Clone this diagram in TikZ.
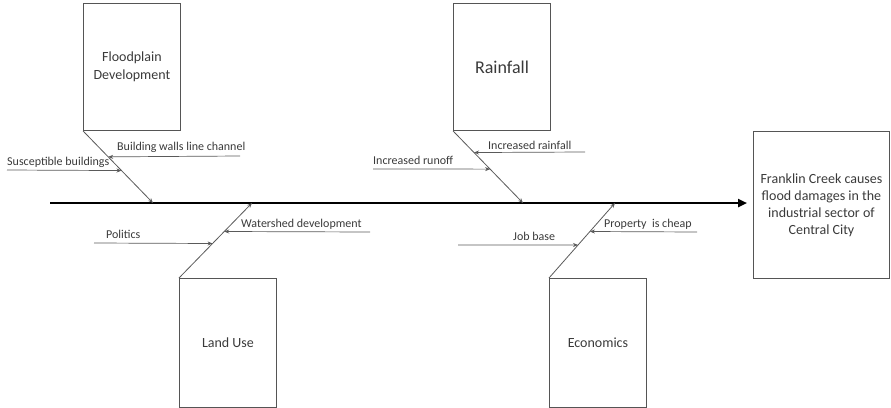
\documentclass[tikz,border=0pt]{standalone}
\usepackage{fontspec}
\setmainfont{Carlito}
\usetikzlibrary{arrows.meta,calc}
\definecolor{ink}{HTML}{3A3A3A}
\definecolor{linegray}{HTML}{5A5A5A}
\definecolor{boxline}{HTML}{555555}
\tikzset{
  catbox/.style={draw=boxline, line width=0.9pt, anchor=north west, inner sep=0pt,
    minimum width=97pt, minimum height=127pt, align=center, text=ink, font=\fontsize{14}{18}\selectfont},
  bone/.style={draw=linegray, line width=0.8pt, -{Stealth[length=5pt,width=4pt]}},
  rib/.style={draw=linegray, line width=0.7pt, -{Stealth[length=5pt,width=4pt]}},
  ribtext/.style={anchor=base west, inner sep=0pt, text=ink, font=\fontsize{12}{14}\selectfont},
  spine/.style={draw=black, line width=2.4pt, -{Triangle[length=9pt,width=8pt]}},
}
\begin{document}
\begin{tikzpicture}[x=1pt,y=-1pt]
\useasboundingbox (0,0) rectangle (891,407);

% effect box and main spine
\node[draw=boxline, line width=0.9pt, anchor=north west, minimum width=136pt, minimum height=147pt,
  inner sep=0pt, align=center, text=ink, font=\fontsize{14}{17}\selectfont]
  (effect) at (753,131) {Franklin Creek causes\\flood damages in the\\industrial sector of\\Central City};
\coordinate (tail) at (50,203);
\coordinate (head) at (747,203);
\draw[spine] (tail) -- (head);

% category boxes
\node[catbox] (flood) at (83,3) {Floodplain\\Development};
\node[catbox, font=\fontsize{18}{20}\selectfont] (rain) at (453,3) {Rainfall};
\node[catbox, minimum height=129pt] (land) at (179,278) {Land Use};
\node[catbox, minimum height=129pt] (econ) at (549,278) {Economics};

% joints on the spine
\coordinate (jflood) at (153,203);
\coordinate (jland) at (252,203);
\coordinate (jrain) at (523,203);
\coordinate (jecon) at (615,203);

% bones
\draw[bone] (flood.south west) -- (jflood);
\draw[bone] (land.north west) -- (jland);
\draw[bone] (rain.south west) -- (jrain);
\draw[bone] (econ.north west) -- (jecon);

% Floodplain Development causes
\coordinate (f1s) at (240,156);
\coordinate (f1e) at ($(flood.south west)!0.36!(jflood)$);
\draw[rib] (f1s) -- (f1e);
\node[ribtext] (f1t) at (117,150) {Building walls line channel};
\coordinate (f2s) at (7,170);
\coordinate (f2e) at ($(flood.south west)!0.55!(jflood)$);
\draw[rib] (f2s) -- (f2e);
\node[ribtext] (f2t) at (7,165) {Susceptible buildings};

% Land Use causes
\coordinate (l1s) at (370,232);
\coordinate (l1e) at ($(land.north west)!0.62!(jland)$);
\draw[rib] (l1s) -- (l1e);
\node[ribtext] (l1t) at (241,227) {Watershed development};
\coordinate (l2s) at (94,243);
\coordinate (l2e) at ($(land.north west)!0.46!(jland)$);
\draw[rib] (l2s) -- (l2e);
\node[ribtext] (l2t) at (106,238) {Politics};

% Rainfall causes
\coordinate (r1s) at (585,152);
\coordinate (r1e) at ($(rain.south west)!0.30!(jrain)$);
\draw[rib] (r1s) -- (r1e);
\node[ribtext] (r1t) at (488,149) {Increased rainfall};
\coordinate (r2s) at (373,169);
\coordinate (r2e) at ($(rain.south west)!0.53!(jrain)$);
\draw[rib] (r2s) -- (r2e);
\node[ribtext] (r2t) at (373,164) {Increased runoff};

% Economics causes
\coordinate (e1s) at (697,232);
\coordinate (e1e) at ($(econ.north west)!0.62!(jecon)$);
\draw[rib] (e1s) -- (e1e);
\node[ribtext] (e1t) at (604,227) {Property\ \ is cheap};
\coordinate (e2s) at (458,245);
\coordinate (e2e) at ($(econ.north west)!0.44!(jecon)$);
\draw[rib] (e2s) -- (e2e);
\node[ribtext] (e2t) at (513,240) {Job base};
\end{tikzpicture}
\end{document}
